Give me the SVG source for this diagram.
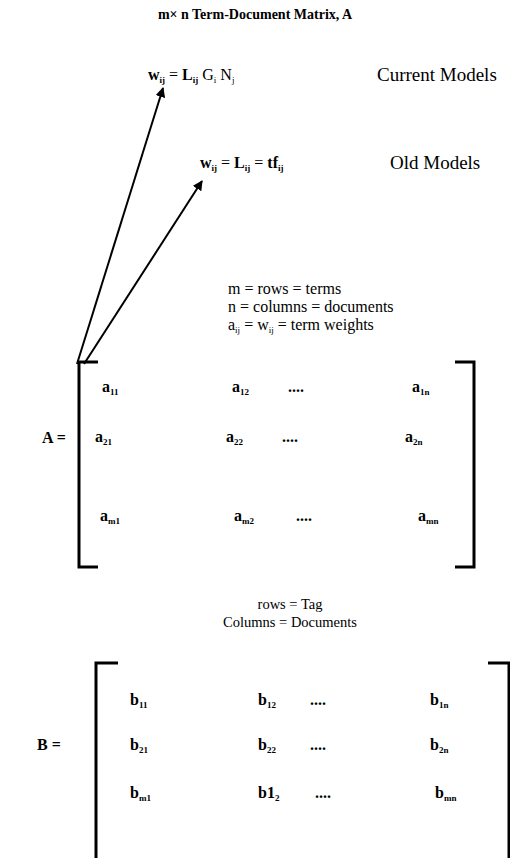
<svg xmlns="http://www.w3.org/2000/svg" width="510" height="858" viewBox="0 0 510 858" font-family="'Liberation Serif', 'Times New Roman', serif">
<style>
text{font-family:"Liberation Serif","Times New Roman",serif;fill:#000}
.t{font-size:14px;font-weight:bold}
.f{font-size:16px}
.lbl{font-size:19px}
.def{font-size:16px}
.tag{font-size:14.5px}
.m{font-size:16px;font-weight:bold}
.s{font-size:9px}
.br{fill:none;stroke:#000;stroke-width:3}
.ar{fill:none;stroke:#000;stroke-width:2}
</style>
<defs>
<marker id="ah" viewBox="0 0 10 10" refX="9" refY="5" markerWidth="5" markerHeight="5" orient="auto" markerUnits="strokeWidth">
<path d="M0,0 L10,5 L0,10 z" fill="#000"/>
</marker>
</defs>
<rect width="510" height="858" fill="#fff"/>
<g id="title"><text class="t" x="255" y="19" text-anchor="middle">m× n Term-Document Matrix, A</text></g>
<g id="current-formula"><text class="f" x="148" y="80"><tspan font-weight="bold">w</tspan><tspan class="s" dy="3" font-weight="bold">ij</tspan><tspan dy="-3"> = </tspan><tspan font-weight="bold">L</tspan><tspan class="s" dy="3" font-weight="bold">ij</tspan><tspan dy="-3"> G</tspan><tspan class="s" dy="3">i</tspan><tspan dy="-3">  N</tspan><tspan class="s" dy="3">j</tspan></text></g>
<g id="current-label"><text class="lbl" x="377" y="81">Current Models</text></g>
<g id="old-formula"><text class="f" x="200" y="168"><tspan font-weight="bold">w</tspan><tspan class="s" dy="3" font-weight="bold">ij</tspan><tspan dy="-3"> = </tspan><tspan font-weight="bold">L</tspan><tspan class="s" dy="3" font-weight="bold">ij</tspan><tspan dy="-3"> = </tspan><tspan font-weight="bold">tf</tspan><tspan class="s" dy="3" font-weight="bold">ij</tspan></text></g>
<g id="old-label"><text class="lbl" x="390" y="169">Old Models</text></g>
<g id="definitions">
<text class="def" x="228" y="294">m = rows = terms</text>
<text class="def" x="228" y="312">n = columns = documents</text>
<text class="def" x="228" y="330">a<tspan class="s" dy="3">ij</tspan><tspan dy="-3"> = w</tspan><tspan class="s" dy="3">ij</tspan><tspan dy="-3"> = term weights</tspan></text>
</g>
<g id="connectors">
<line class="ar" x1="77" y1="364" x2="163" y2="88" marker-end="url(#ah)"/>
<line class="ar" x1="84" y1="364" x2="202" y2="181" marker-end="url(#ah)"/>
</g>
<g id="matrix-A">
<text class="m" x="42" y="443">A =</text>
<path class="br" d="M98,362 H79 V567 H98"/>
<path class="br" d="M455,362 H474 V567 H455"/>
<text class="m" x="102" y="392">a<tspan class="s" dy="3">11</tspan></text>
<text class="m" x="232" y="392">a<tspan class="s" dy="3">12</tspan></text>
<text class="m" x="288" y="392">....</text>
<text class="m" x="412" y="392">a<tspan class="s" dy="3">1n</tspan></text>
<text class="m" x="95" y="442">a<tspan class="s" dy="3">21</tspan></text>
<text class="m" x="226" y="442">a<tspan class="s" dy="3">22</tspan></text>
<text class="m" x="282" y="442">....</text>
<text class="m" x="405" y="442">a<tspan class="s" dy="3">2n</tspan></text>
<text class="m" x="100" y="521">a<tspan class="s" dy="3">m1</tspan></text>
<text class="m" x="234" y="521">a<tspan class="s" dy="3">m2</tspan></text>
<text class="m" x="296" y="521">....</text>
<text class="m" x="418" y="521">a<tspan class="s" dy="3">mn</tspan></text>
</g>
<g id="tag-definitions">
<text class="tag" x="290" y="609" text-anchor="middle">rows = Tag</text>
<text class="tag" x="290" y="627" text-anchor="middle">Columns = Documents</text>
</g>
<g id="matrix-B">
<text class="m" x="37" y="750">B =</text>
<path class="br" d="M118,663 H96 V858"/>
<path class="br" d="M488,663 H509 V858"/>
<text class="m" x="130" y="705">b<tspan class="s" dy="3">11</tspan></text>
<text class="m" x="258" y="705">b<tspan class="s" dy="3">12</tspan></text>
<text class="m" x="310" y="705">....</text>
<text class="m" x="430" y="705">b<tspan class="s" dy="3">1n</tspan></text>
<text class="m" x="130" y="750">b<tspan class="s" dy="3">21</tspan></text>
<text class="m" x="258" y="750">b<tspan class="s" dy="3">22</tspan></text>
<text class="m" x="310" y="750">....</text>
<text class="m" x="430" y="750">b<tspan class="s" dy="3">2n</tspan></text>
<text class="m" x="130" y="798">b<tspan class="s" dy="3">m1</tspan></text>
<text class="m" x="258" y="798">b1<tspan class="s" dy="3">2</tspan></text>
<text class="m" x="315" y="798">....</text>
<text class="m" x="435" y="798">b<tspan class="s" dy="3">mn</tspan></text>
</g>
</svg>
